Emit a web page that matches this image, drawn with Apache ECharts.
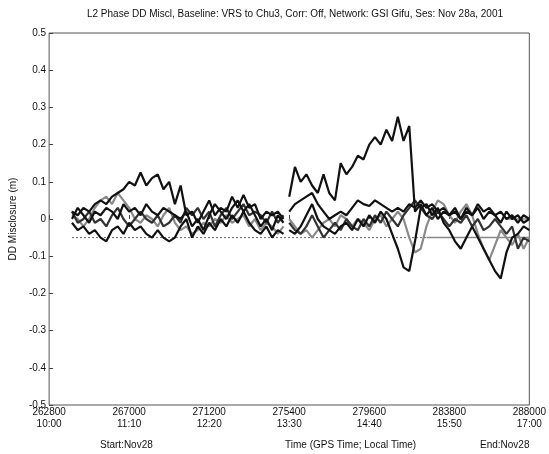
<!DOCTYPE html>
<html>
<head>
<meta charset="utf-8">
<script src="https://cdn.jsdelivr.net/npm/echarts@6/dist/echarts.min.js"></script>
<style>
  html, body { margin: 0; padding: 0; background: #fff; }
  #chart { width: 549px; height: 454px; }
</style>
</head>
<body>
<div id="chart"></div>
<script>
// GPS time stamps (s), left session part and right part, gap between them
const timesLeft = [264000, 264300, 264600, 264900, 265200, 265500, 265800, 266100, 266400, 266700,
  267000, 267300, 267600, 267900, 268200, 268500, 268800, 269100, 269400, 269700,
  270000, 270300, 270600, 270900, 271200, 271500, 271800, 272100, 272400, 272700,
  273000, 273300, 273600, 273900, 274200, 274500, 274800, 275100]
const timesRight = [275400, 275700, 276000, 276300, 276600, 276900, 277200, 277500, 277800, 278100,
  278400, 278700, 279000, 279300, 279600, 279900, 280200, 280500, 280800, 281100,
  281400, 281700, 282000, 282300, 282600, 282900, 283200, 283500, 283800, 284100,
  284400, 284700, 285000, 285300, 285600, 285900, 286200, 286500, 286800, 287100,
  287400, 287700, 288000]

// DD misclosure (m) per satellite pair
const s1Left = [0.02, 0.01, 0.03, 0.02, 0.04, 0.05, 0.04, 0.06, 0.07, 0.08, 0.10, 0.09, 0.125, 0.09, 0.11, 0.12, 0.08, 0.10, 0.04, 0.09,
  0.01, 0.02, -0.01, 0.02, 0.05, 0.01, 0.03, 0.02, 0.06, 0.03, 0.065, 0.03, 0.04, 0.0, 0.02, 0.01, 0.02, 0.0]
const s1Right = [0.06, 0.14, 0.10, 0.12, 0.09, 0.07, 0.12, 0.07, 0.05, 0.15, 0.12, 0.14, 0.17, 0.16, 0.20, 0.22, 0.20, 0.24, 0.21, 0.275,
  0.21, 0.25, 0.02, 0.04, 0.01, 0.03, 0.0, 0.02, 0.01, 0.03, 0.0, 0.02, 0.01, 0.03, 0.0, 0.02, 0.01, -0.01, 0.02, 0.0,
  0.01, -0.01, 0.0]

const s2Left = [0.0, 0.03, 0.01, -0.01, 0.02, 0.01, 0.03, 0.02, 0.0, 0.04, 0.02, 0.03, 0.01, 0.04, 0.02, 0.01, 0.03, 0.02, 0.01, 0.0,
  0.02, -0.02, 0.0, -0.03, 0.01, 0.04, 0.02, 0.0, 0.03, 0.05, 0.02, 0.04, 0.01, -0.02, 0.0, -0.03, 0.01, -0.01]
const s2Right = [0.02, 0.04, 0.05, 0.06, 0.07, 0.04, 0.02, 0.0, 0.01, 0.02, 0.01, 0.03, 0.05, 0.04, 0.035, 0.05, 0.04, 0.03, 0.02, 0.03,
  0.02, 0.04, 0.03, 0.05, 0.03, 0.04, 0.02, 0.03, 0.01, 0.02, 0.0, 0.03, 0.01, 0.04, 0.02, 0.03, 0.01, 0.02, 0.0, 0.01,
  -0.01, 0.01, 0.0]

const s3Left = [-0.01, -0.03, -0.02, -0.04, -0.03, -0.05, -0.06, -0.03, -0.02, -0.04, -0.01, -0.03, -0.02, -0.04, -0.05, -0.03, -0.05, -0.06, -0.05, -0.02,
  0.0, -0.05, -0.02, -0.04, -0.01, -0.03, 0.0, -0.02, 0.01, -0.01, 0.02, -0.01, -0.03, -0.04, -0.02, -0.05, -0.03, -0.04]
const s3Right = [-0.03, -0.04, -0.02, 0.01, 0.04, 0.0, -0.02, -0.03, -0.04, -0.02, -0.01, -0.03, 0.0, -0.02, 0.01, -0.01, 0.02, 0.0, -0.04, -0.08,
  -0.13, -0.14, -0.06, 0.03, 0.04, 0.01, 0.03, -0.01, -0.03, -0.06, -0.08, -0.05, -0.02, -0.05, -0.08, -0.11, -0.14, -0.16, -0.09, -0.05,
  -0.04, -0.02, -0.03]

const s4Left = [0.01, 0.0, -0.02, 0.0, 0.03, 0.05, 0.06, 0.04, 0.07, 0.05, 0.03, 0.0, -0.01, 0.01, 0.0, -0.02, 0.01, 0.03, -0.01, -0.03,
  -0.02, -0.04, -0.03, -0.01, -0.02, 0.0, -0.01, 0.01, -0.01, 0.0, 0.01, -0.02, 0.0, -0.03, -0.01, -0.02, -0.04, -0.02]
const s4Right = [0.0, -0.02, -0.04, -0.03, -0.05, -0.03, -0.01, 0.0, -0.02, 0.01, 0.0, -0.02, 0.0, -0.01, -0.03, 0.0, 0.01, -0.02, 0.0, 0.02,
  0.0, -0.05, -0.09, -0.08, -0.02, 0.02, 0.05, 0.04, 0.01, -0.01, 0.02, 0.04, 0.01, -0.04, -0.08, -0.11, -0.07, -0.03, -0.05, -0.07,
  -0.04, -0.08, -0.05]

const s5Left = [0.02, -0.01, 0.0, 0.02, -0.01, 0.0, -0.02, 0.01, 0.03, 0.0, -0.02, 0.0, 0.02, 0.0, -0.01, 0.01, -0.02, -0.01, 0.01, -0.01,
  0.03, 0.01, 0.03, 0.0, 0.02, -0.02, 0.01, 0.03, 0.0, 0.02, 0.04, 0.01, 0.02, 0.01, -0.01, 0.02, -0.01, 0.01]
const s5Right = [-0.01, -0.03, -0.04, -0.02, 0.01, -0.02, -0.05, -0.03, -0.01, -0.03, 0.0, -0.02, -0.03, 0.0, -0.02, 0.01, -0.01, 0.02, 0.0, -0.02,
  0.01, 0.03, 0.05, 0.03, 0.01, 0.0, 0.02, 0.0, -0.02, 0.0, -0.01, 0.01, -0.02, 0.0, -0.03, -0.02, 0.0, -0.02, -0.04, -0.02,
  -0.08, -0.05, -0.06]

// reference level lines
const refLevel = -0.05
const refDottedSpan = [264000, 282600]
const refSolidSpan = [282600, 288000]
const zeroSolidSpan = [286800, 288000]

// axis ticks
const xTicks = [262800, 267000, 271200, 275400, 279600, 283800, 288000]
const xTickTimes = ['10:00', '11:10', '12:20', '13:30', '14:40', '15:50', '17:00']

function pairs(left, right) {
  const out = []
  timesLeft.forEach((t, i) => out.push([t, left[i]]))
  out.push([275250, null]) // data gap
  timesRight.forEach((t, i) => out.push([t, right[i]]))
  return out
}

const myChart = echarts.init(document.getElementById('chart'))

function line(name, left, right, color, width) {
  return {
    name: name,
    type: 'line',
    data: pairs(left, right),
    showSymbol: false,
    connectNulls: false,
    lineStyle: { color: color, width: width },
    animation: false
  }
}

const option = {
  backgroundColor: '#fff',
  textStyle: { fontFamily: 'Liberation Sans, Arial, sans-serif' },
  title: {
    text: 'L2 Phase DD Miscl, Baseline: VRS to Chu3, Corr: Off, Network: GSI Gifu, Ses: Nov 28a, 2001',
    left: 290,
    top: 4,
    textAlign: 'center',
    textStyle: { fontSize: 10, fontWeight: 'normal', color: '#111' }
  },
  grid: {
    left: 45, right: 18, top: 33, bottom: 49,
    show: true, borderColor: '#555', borderWidth: 1
  },
  xAxis: {
    type: 'value',
    min: 262800,
    max: 288000,
    interval: 4200,
    axisLine: { show: false },
    axisTick: { inside: true, length: 4, lineStyle: { color: '#444' } },
    splitLine: { show: false },
    axisLabel: {
      color: '#111',
      fontSize: 10,
      lineHeight: 12,
      margin: 1,
      formatter: (v) => {
        const i = xTicks.indexOf(v)
        return i >= 0 ? v + '\n' + xTickTimes[i] : v
      }
    }
  },
  yAxis: {
    type: 'value',
    min: -0.5,
    max: 0.5,
    interval: 0.1,
    name: 'DD Misclosure (m)',
    nameLocation: 'middle',
    nameGap: 31,
    nameTextStyle: { fontSize: 10, color: '#111' },
    axisLine: { show: false },
    axisTick: { inside: true, length: 4, lineStyle: { color: '#444' } },
    splitLine: { show: false },
    axisLabel: {
      color: '#111',
      fontSize: 10,
      margin: 3,
      formatter: (v) => {
        const r = Math.round(v * 10) / 10
        return r === 0 ? '0' : String(r)
      }
    }
  },
  graphic: [
    { type: 'text', left: 100, top: 440, style: { text: 'Start:Nov28', fontSize: 10, fill: '#111', textAlign: 'center' } },
    { type: 'text', left: 285, top: 440, style: { text: 'Time (GPS Time; Local Time)', fontSize: 10, fill: '#111', textAlign: 'center' } },
    { type: 'text', left: 480, top: 440, style: { text: 'End:Nov28', fontSize: 10, fill: '#111', textAlign: 'center' } }
  ],
  series: [
    {
      type: 'line', showSymbol: false, animation: false,
      data: refDottedSpan.map(t => [t, refLevel]),
      lineStyle: { color: '#666', width: 1, type: [2, 2] }
    },
    {
      type: 'line', showSymbol: false, animation: false,
      data: refSolidSpan.map(t => [t, refLevel]),
      lineStyle: { color: '#888', width: 1.5 }
    },
    {
      type: 'line', showSymbol: false, animation: false,
      data: zeroSolidSpan.map(t => [t, 0]),
      lineStyle: { color: '#888', width: 1.5 }
    },
    line('s4', s4Left, s4Right, '#8a8a8a', 2.2),
    line('s5', s5Left, s5Right, '#333', 2.2),
    line('s3', s3Left, s3Right, '#111', 2.2),
    line('s2', s2Left, s2Right, '#111', 2.2),
    line('s1', s1Left, s1Right, '#111', 2.2)
  ]
}

myChart.setOption(option)
window.addEventListener('resize', () => { myChart.resize() })
</script>
</body>
</html>
